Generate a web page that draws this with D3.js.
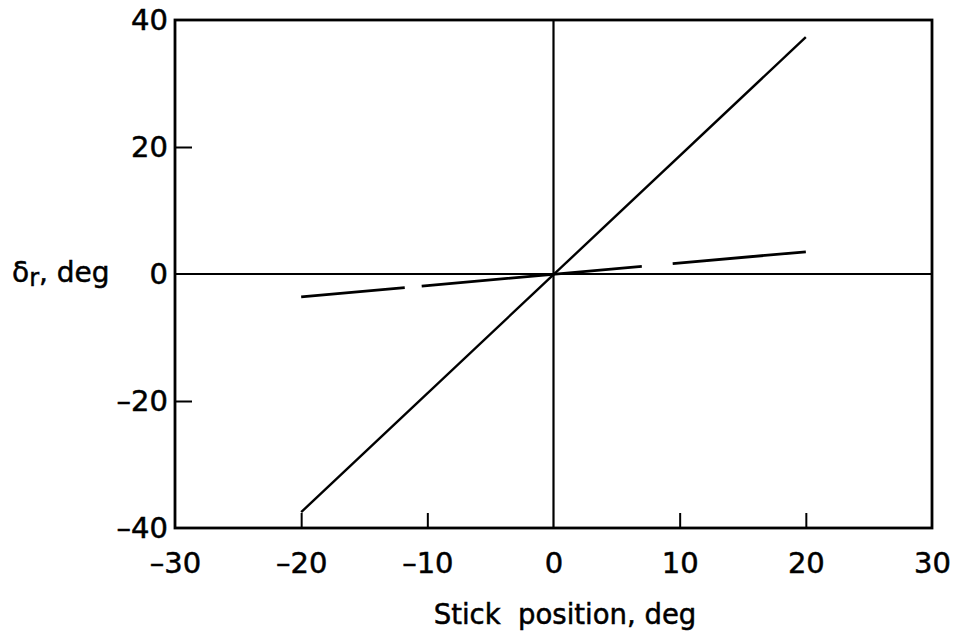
<!DOCTYPE html>
<html>
<head>
<meta charset="utf-8">
<script src="https://cdn.jsdelivr.net/npm/d3@7"></script>
<style>
  html, body { margin: 0; padding: 0; background: #fff; }
  svg text { font-family: "DejaVu Sans", sans-serif; fill: #000; stroke: #000; stroke-width: 0.5px; }
</style>
</head>
<body>
<svg id="chart" width="957" height="636"></svg>
<script>
// Rudder deflection versus stick position
const xTicks = [-30, -20, -10, 0, 10, 20, 30];
const yTicks = [-40, -20, 0, 20, 40];
const xDomain = [-30, 30];
const yDomain = [-40, 40];

// Steep gearing (solid) and shallow gearing (dashed)
const stickSolid = [-20, 20];
const rudderSolid = [-37.5, 37.3];
const stickDashed = [-20, 20];
const rudderDashed = [-3.6, 3.5];

const margin = { left: 175, right: 25, top: 20, bottom: 108 };
const W = 957, H = 636;

const svg = d3.select("#chart");
const x = d3.scaleLinear().domain(xDomain).range([margin.left, W - margin.right]);
const y = d3.scaleLinear().domain(yDomain).range([H - margin.bottom, margin.top]);

const fmt = d => (d < 0 ? "\u2013" : "") + Math.abs(d);

// Frame
svg.append("rect")
  .attr("x", x(xDomain[0])).attr("y", y(yDomain[1]))
  .attr("width", x(xDomain[1]) - x(xDomain[0]))
  .attr("height", y(yDomain[0]) - y(yDomain[1]))
  .attr("fill", "none").attr("stroke", "#000").attr("stroke-width", 2.8);

// Zero axes
svg.append("line")
  .attr("x1", x(0)).attr("x2", x(0)).attr("y1", y(yDomain[0])).attr("y2", y(yDomain[1]))
  .attr("stroke", "#000").attr("stroke-width", 2.2);
svg.append("line")
  .attr("x1", x(xDomain[0])).attr("x2", x(xDomain[1])).attr("y1", y(0)).attr("y2", y(0))
  .attr("stroke", "#000").attr("stroke-width", 2.2);

// Bottom axis: inward ticks
const xAxis = d3.axisBottom(x).tickValues(xTicks).tickSize(-15).tickPadding(24).tickFormat(fmt);
const gx = svg.append("g").attr("transform", `translate(0,${y(yDomain[0])})`).call(xAxis);
gx.select(".domain").remove();
gx.selectAll(".tick line").attr("stroke", "#000").attr("stroke-width", 2)
  .filter(d => d === xDomain[0] || d === xDomain[1] || d === 0).remove();
gx.selectAll(".tick text").attr("font-size", 29).attr("font-family", "DejaVu Sans");

// Left axis: inward ticks
const yAxis = d3.axisLeft(y).tickValues(yTicks).tickSize(-17).tickPadding(7).tickFormat(fmt);
const gy = svg.append("g").attr("transform", `translate(${x(xDomain[0])},0)`).call(yAxis);
gy.select(".domain").remove();
gy.selectAll(".tick line").attr("stroke", "#000").attr("stroke-width", 2)
  .filter(d => d === yDomain[0] || d === yDomain[1] || d === 0).remove();
gy.selectAll(".tick text").attr("font-size", 29).attr("font-family", "DejaVu Sans");

// Data lines
const line = d3.line().x(d => x(d[0])).y(d => y(d[1]));
svg.append("path")
  .datum(stickSolid.map((s, i) => [s, rudderSolid[i]]))
  .attr("d", line).attr("fill", "none").attr("stroke", "#000").attr("stroke-width", 2.4);
svg.append("path")
  .datum(stickDashed.map((s, i) => [s, rudderDashed[i]]))
  .attr("d", line).attr("fill", "none").attr("stroke", "#000").attr("stroke-width", 2.8)
  .attr("stroke-dasharray", "104,17,221,31,140");

// Axis titles
svg.append("text")
  .attr("x", 565).attr("y", 624)
  .attr("text-anchor", "middle").attr("font-size", 27.5)
  .attr("xml:space", "preserve")
  .text("Stick  position, deg");

const yl = svg.append("text").attr("x", 12).attr("y", 282).attr("font-size", 28);
yl.append("tspan").text("\u03b4");
yl.append("tspan").attr("font-size", 24).attr("dy", 4).text("r");
yl.append("tspan").attr("dy", -4).text(", deg");
</script>
</body>
</html>
